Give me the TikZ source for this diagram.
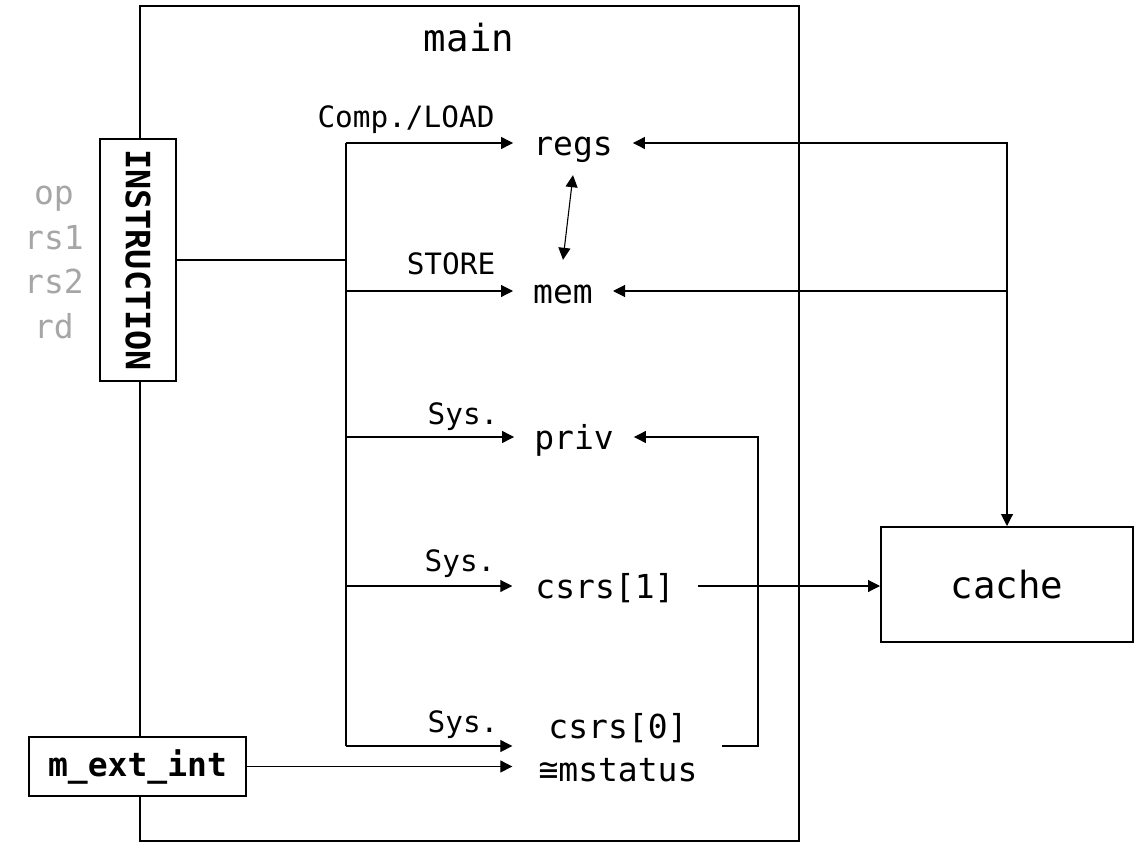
\documentclass[tikz,border=0pt]{standalone}
\usepackage{fontspec}
\setmainfont{DejaVu Sans Mono}
\usetikzlibrary{arrows.meta,calc}
\tikzset{
  conn/.style={line width=1.1pt, draw=black},
  arr/.style={conn, -{Triangle[length=12pt,width=12pt]}},
  darr/.style={conn, {Triangle[length=12pt,width=12pt]}-{Triangle[length=12pt,width=12pt]}},
  box/.style={draw=black, line width=2pt, fill=white, inner sep=0pt},
  lbl/.style={inner ysep=0pt, inner xsep=20pt, text height=24pt, text depth=0pt, font=\fontsize{33}{40}\selectfont},
  small/.style={anchor=base, inner sep=0pt, font=\fontsize{29.4}{34}\selectfont},
  grey/.style={anchor=base, inner sep=0pt, text=black!35, font=\fontsize{33}{40}\selectfont},
}
\begin{document}
\begin{tikzpicture}[x=1pt,y=-1pt]
\useasboundingbox (0,0) rectangle (1135,843);
% main container
\draw[line width=2pt] (140,6) rectangle (799,841);
\node[anchor=base, inner sep=0pt, font=\fontsize{37.4}{44}\selectfont] (main) at (469,52) {main};

% left boxes
\node[box, minimum width=76pt, minimum height=242pt] (instr) at (138,260)
  {\rotatebox{-90}{\fontsize{33.5}{40}\selectfont\bfseries INSTRUCTION}};
\node[box, minimum width=217pt, minimum height=59pt, font=\fontsize{33}{40}\selectfont\bfseries] (mext) at (137.5,766.5) {m\_ext\_int};

% grey field names
\node[grey] (op)  at (54,204) {op};
\node[grey] (rs1) at (54,249) {rs1};
\node[grey] (rs2) at (54,293) {rs2};
\node[grey] (rd)  at (54,338) {rd};

% register nodes
\node[lbl] (regs) at (573,143) {regs};
\node[lbl] (mem) at (563,291) {mem};
\node[lbl] (priv) at (574,437) {priv};
\node[lbl, inner xsep=23pt] (csrs1) at (605,586) {csrs[1]};
\node[lbl] (csrs0) at (618,726) {csrs[0]};
\node[lbl, inner xsep=26pt] (mstat) at (618,769) {≅mstatus};

% cache
\node[box, minimum width=252pt, minimum height=115pt, font=\fontsize{37.4}{44}\selectfont] (cache) at (1007,584.5) {cache};

% bus
\coordinate (bt) at (346,143);
\coordinate (bb) at (346,746);
\draw[conn] (instr.east) -- (instr.east -| bt);
\draw[conn] (bt) -- (bb);
\draw[arr] (bt) -- (regs.west);
\draw[arr] (bt |- mem.west) -- (mem.west);
\draw[arr] (bt |- priv.west) -- (priv.west);
\draw[arr] (bt |- csrs1.west) -- (csrs1.west);
\draw[arr] (bb) -- (bb -| mstat.west);
\draw[arr] (mext.east) -- (mext.east -| mstat.west);

% bus labels
\node[small] (l1) at (406,127) {Comp./LOAD};
\node[small] (l2) at (451,274) {STORE};
\node[small] (l3) at (463,424) {Sys.};
\node[small] (l4) at (460,571) {Sys.};
\node[small] (l5) at (463,732) {Sys.};

% regs <-> mem
\draw[darr] ([yshift=-20pt]regs.south) -- ([yshift=19pt]mem.north);

% cache connections
\draw[darr] (regs.east) -| (cache.north);
\draw[arr] (mem.east -| cache.north) -- (mem.east);
\draw[arr] (csrs1.east) -- (cache.west |- csrs1.east);

% csrs[0] -> priv
\coordinate (ret) at (722,746);
\draw[arr] (ret) -- (758,746) |- (priv.east);
\end{tikzpicture}
\end{document}
